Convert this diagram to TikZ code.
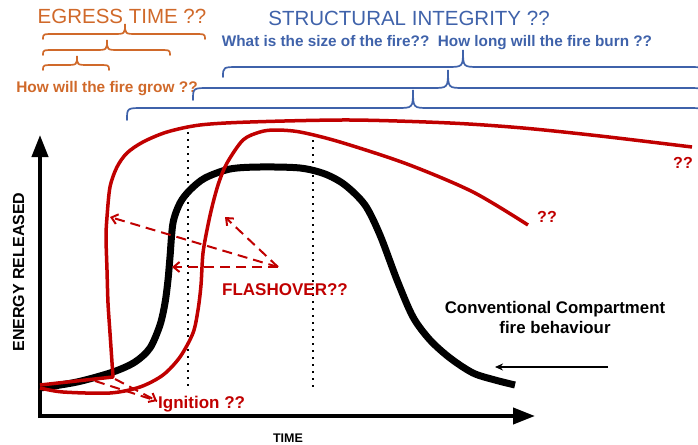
\documentclass[tikz,border=0pt]{standalone}
\usepackage{fontspec}
\setmainfont{Liberation Sans}
\usetikzlibrary{arrows.meta}

\definecolor{firered}{HTML}{C00000}
\definecolor{egress}{HTML}{D0692A}
\definecolor{structblue}{HTML}{3F62AA}

% horizontal curly brace opening downwards:
% #1 style, #2 left x, #3 tip x, #4 right x, #5 arm y, #6 hook depth, #7 tip height, #8 corner radius
\newcommand\curlybrace[8]{%
  \draw[#1] (#2,#5+#6) .. controls (#2,#5) .. (#2+#8,#5) -- (#3-#8,#5)
    .. controls (#3,#5) .. (#3,#5-#7) .. controls (#3,#5) .. (#3+#8,#5)
    -- (#4-#8,#5) .. controls (#4,#5) .. (#4,#5+#6);}

\tikzset{
  fs/.style={font=\fontsize{#1}{#1}\selectfont},
  fsb/.style={font=\fontsize{#1}{#1}\selectfont\bfseries},
  lbl/.style={inner sep=0pt, anchor=base},
  orangebrace/.style={draw=egress, line width=1.7pt, line cap=round},
  bluebrace/.style={draw=structblue, line width=1.7pt, line cap=round},
  firecurve/.style={draw=firered, line width=3.5pt, line join=round},
  compcurve/.style={draw=black, line width=7pt, line join=round},
  axis/.style={draw=black, line width=4pt, -{Triangle[length=22pt,width=16pt]}},
  guide/.style={draw=black, line width=2pt, dash pattern=on 2pt off 5pt},
  dasharrow/.style={draw=firered, line width=2pt, dash pattern=on 10pt off 6pt,
    -{Straight Barb[length=6pt,width=10pt]}},
}

\begin{document}
\begin{tikzpicture}[x=1pt,y=-1pt]
\useasboundingbox (0,0) rectangle (698,444);

% headings
\node[lbl, fs=20.5, text=egress] (egress) at (122,24) {EGRESS TIME ??};
\node[lbl, fs=20.5, text=structblue] (integrity) at (409,26) {STRUCTURAL INTEGRITY ??};
\node[lbl, fsb=15.3, text=structblue] (sizeburn) at (437,46)
  {What is the size of the fire??\ \ How long will the fire burn ??};
\node[lbl, fsb=15.4, text=egress] (grow) at (107,92) {How will the fire grow ??};

% braces
\curlybrace{orangebrace}{43}{125}{205}{34}{5}{10}{12}
\curlybrace{orangebrace}{43}{107}{170}{50}{5}{10}{12}
\curlybrace{orangebrace}{43}{77}{109}{65}{5}{9}{12}
\begin{scope}
  \clip (0,0) rectangle (698,444);
  \curlybrace{bluebrace}{223}{463}{704}{67}{10}{17}{16}
  \curlybrace{bluebrace}{193}{448}{704}{88}{12}{18}{16}
  \curlybrace{bluebrace}{127}{413}{704}{108}{12}{18}{16}
\end{scope}

% time markers
\draw[guide] (188,132) -- (188,388);
\draw[guide] (313,140) -- (313,388);

% axes
\coordinate (origin) at (40,416);
\coordinate (ytip) at (40,135);
\coordinate (xtip) at (535,416);
\draw[axis] (origin) ++(0,2) -- (ytip);
\draw[axis] (origin) ++(-2,0) -- (xtip);
\node[lbl, fsb=16, rotate=90] (ylabel) at (24,272) {ENERGY RELEASED};
\node[lbl, fsb=12.5] (xlabel) at (288,442) {TIME};

% conventional compartment fire
\draw[compcurve] plot[smooth, tension=0.5] coordinates {
  (40,388) (77,382) (113,372) (135,362) (150,348) (160,325) (165,303) (168,280)
  (170,257) (173,223) (180,203) (190,190) (205,178) (230,169) (260,167) (300,168)
  (325,174) (345,185) (365,205) (380,235) (397,280) (413,317) (430,340) (450,358)
  (473,373) (495,380) (515,385)};

% fast-growing fire
\draw[firecurve] (40,385) -- (113,377) -- plot[smooth, tension=0.5] coordinates {
  (113,377) (110,333) (108,303) (107,270) (106,237) (107,217) (110,187) (117,167)
  (127,153) (143,142) (167,132) (200,125) (250,122) (350,120) (450,123) (523,128)
  (600,136) (692,147)};

% slower-growing fire
\draw[firecurve] plot[smooth, tension=0.5] coordinates {
  (40,388) (63,392) (110,393) (140,387) (163,375) (180,357) (193,333) (198,310)
  (201,285) (203,253) (208,225) (213,203) (219,182) (227,163) (243,140) (260,132)
  (275,130) (300,132) (340,142) (407,164) (473,192) (528,225)};

\node[lbl, fsb=16, text=firered] (q1) at (683,168) {??};
\node[lbl, fsb=16, text=firered] (q2) at (547,222) {??};

% flashover
\node[lbl, fsb=17, text=firered] (flash) at (285,295) {FLASHOVER??};
\coordinate (fhub) at (278,267);
\coordinate (fa) at (110,217);
\coordinate (fb) at (172,267);
\coordinate (fc) at (225,217);
\draw[dasharrow] (fhub) -- (fa);
\draw[dasharrow] (fhub) -- (fb);
\draw[dasharrow] (fhub) -- (fc);

% ignition
\node[lbl, fsb=17, text=firered, anchor=base west] (ign) at (158,408) {Ignition ??};
\coordinate (ihub) at (157,401);
\coordinate (ia) at (95,381);
\coordinate (ib) at (115,379);
\draw[dasharrow, -] (ia) -- (ihub);
\draw[dasharrow] (ib) -- (ihub);

% conventional label
\node[lbl, fsb=16.8] (conv1) at (555,313) {Conventional Compartment};
\node[lbl, fsb=16.8] (conv2) at (555,333) {fire behaviour};
\coordinate (cstart) at (608,367);
\coordinate (cend) at (495,367);
\draw[line width=2pt, -{Stealth[length=8pt,width=7pt]}] (cstart) -- (cend);
\end{tikzpicture}
\end{document}
